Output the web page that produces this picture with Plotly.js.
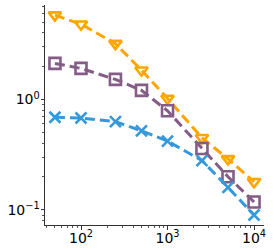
<!DOCTYPE html>
<html><head><meta charset="utf-8">
<script src="https://cdn.plot.ly/plotly-3.0.1.min.js"></script>
<style>html,body{margin:0;padding:0;background:#fff}#c{width:274px;height:249px}</style>
</head><body><div id="c"></div>
<script>
const xVals = [50, 100, 250, 500, 1000, 2500, 5000, 10000];
const orangeVals = [5.8, 4.8, 3.2, 1.84, 1.02, 0.45, 0.29, 0.18];
const purpleVals = [2.12, 1.91, 1.52, 1.21, 0.79, 0.36, 0.2, 0.118];
const blueVals = [0.69, 0.68, 0.63, 0.52, 0.42, 0.28, 0.16, 0.09];
const xTickVals = [100, 1000, 10000];
const xTickText = ['10<sup>2</sup>', '10<sup>3</sup>', '10<sup>4</sup>'];
const yTickVals = [0.1, 1];
const yTickText = ['10<sup>−1</sup>', '10<sup>0</sup>'];

function tr(y, color, symbol) {
  return {x: xVals, y: y, type: 'scatter', mode: 'lines+markers',
    line: {color: color, width: 3, dash: '10px,5px'},
    marker: {symbol: symbol, size: 11, color: color, line: {color: color, width: 2.6}}};
}
const data = [
  tr(orangeVals, '#FFA500', 'triangle-down-open'),
  tr(purpleVals, '#845C86', 'square-open'),
  tr(blueVals, '#3498DB', 'x-thin-open')
];
const axBase = {type: 'log', showgrid: false, zeroline: false, showline: true, linecolor: '#333', linewidth: 1,
  ticks: 'outside', ticklen: 3.5, tickcolor: '#333', tickmode: 'array',
  tickfont: {family: 'DejaVu Sans', size: 14, color: '#000'},
  minor: {ticks: 'outside', ticklen: 2, tickcolor: '#555', dtick: 'D1'}};
const layout = {
  width: 274, height: 249, showlegend: false,
  margin: {l: 45, r: 10, t: 5, b: 24},
  paper_bgcolor: '#fff', plot_bgcolor: '#fff',
  xaxis: Object.assign({}, axBase, {range: [1.584, 4.115], tickvals: xTickVals, ticktext: xTickText, ticklabelstandoff: -3}),
  yaxis: Object.assign({}, axBase, {range: [-1.136, 0.855], tickvals: yTickVals, ticktext: yTickText, ticklabelstandoff: -2})
};
Plotly.newPlot('c', data, layout, {displayModeBar: false, staticPlot: true});
</script></body></html>
